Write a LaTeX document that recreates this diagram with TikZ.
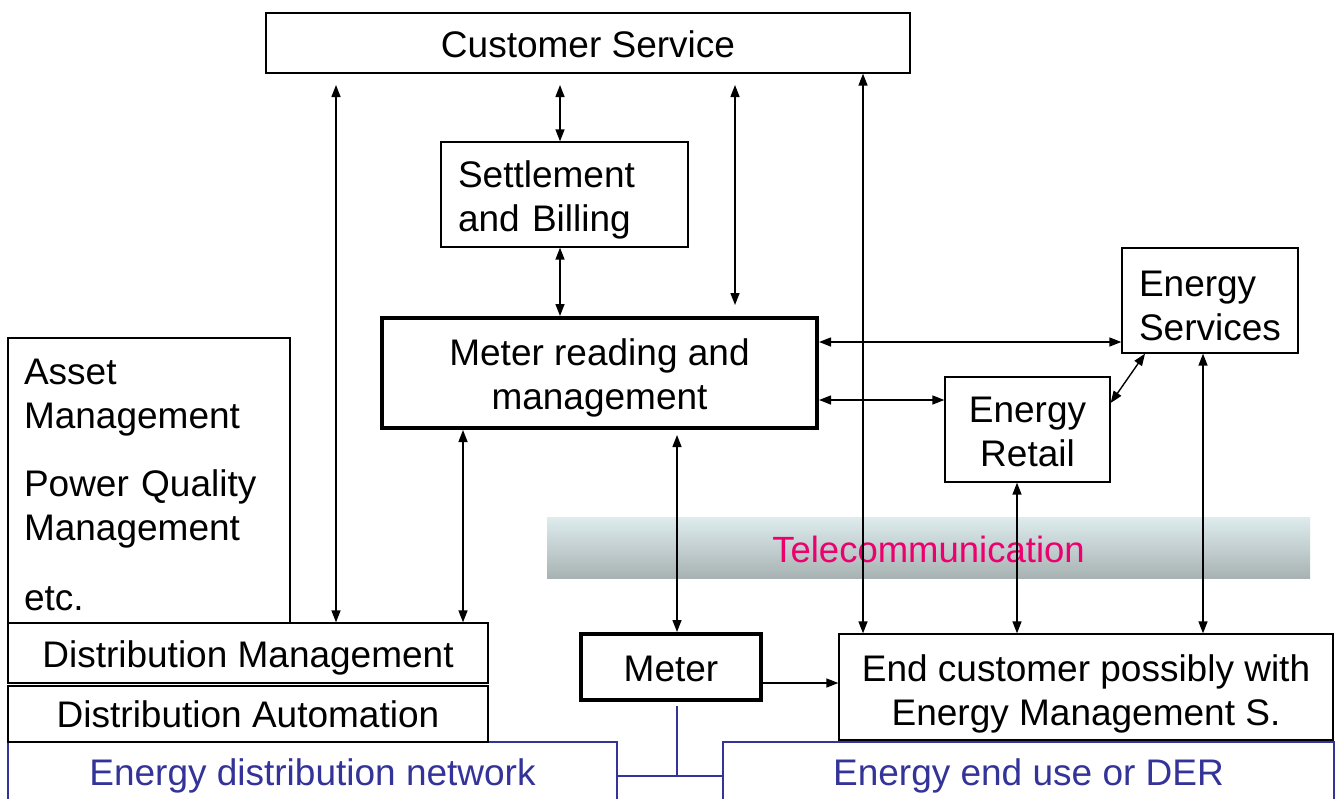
\documentclass[tikz,border=0pt]{standalone}
\usepackage{fontspec}
\setmainfont{Liberation Sans}
\usepackage{tikz}
\usetikzlibrary{arrows.meta, positioning, calc}

\definecolor{netblue}{RGB}{51,51,153}
\definecolor{telepink}{RGB}{235,0,110}
\definecolor{bandtop}{RGB}{222,236,237}
\definecolor{bandbot}{RGB}{168,178,179}

\begin{document}
\begin{tikzpicture}[x=1pt, y=-1pt,
    font=\fontsize{37}{44}\selectfont,
    oneline/.style={text height=29pt, text depth=0pt},
    leftpair/.style={text height=25pt, text depth=40pt},
    midpair/.style={text height=73pt, text depth=0pt},
    box/.style={draw, rectangle, line width=1.3pt, inner sep=0pt},
    heavybox/.style={box, line width=4pt},
    netbox/.style={draw=netblue, rectangle, line width=1.3pt, text=netblue, inner sep=0pt, text height=23pt, text depth=0pt},
    dbl/.style={{Triangle[length=12pt,width=9pt]}-{Triangle[length=12pt,width=9pt]}, line width=1.4pt},
    sgl/.style={-{Triangle[length=12pt,width=9pt]}, line width=1.4pt},
    netline/.style={draw=netblue, line width=1.3pt}]
    \useasboundingbox (0,0) rectangle (1338,798);

    % telecommunication band
    \node (tel) at (928.5,547.5) [rectangle, minimum width=763pt, minimum height=61pt, oneline,
        top color=bandtop, bottom color=bandbot, text=telepink, font=\fontsize{36.5}{42}\selectfont] {Telecommunication};

    % network boxes
    \node (edn) at (312.5,774) [netbox, minimum width=609pt, minimum height=64pt] {Energy distribution network};
    \node (eeu) at (1028.5,774) [netbox, minimum width=611pt, minimum height=64pt] {Energy end use or DER};

    % boxes
    \node (cs) at (588,43) [box, oneline, minimum width=644pt, minimum height=60pt] {Customer Service};
    \node (sb) at (564.5,194.5) [box, leftpair, minimum width=247pt, minimum height=105pt, text width=213pt, inner xsep=17pt, align=left] {Settlement\\and Billing};
    \node (mr) at (599.5,373) [heavybox, midpair, minimum width=435pt, minimum height=110pt, align=center] {Meter reading and\\management};
    \node (es) at (1210,300.5) [box, leftpair, text depth=34pt, minimum width=176pt, minimum height=105pt, text width=142pt, inner xsep=17pt, align=left] {Energy\\Services};
    \node (er) at (1027.5,429.5) [box, midpair, text height=74pt, minimum width=165pt, minimum height=105pt, align=center] {Energy\\Retail};
    \node (am) at (149,480.5) [box, minimum width=282pt, minimum height=285pt, text width=250pt, inner xsep=16pt, align=left,
        text height=25pt, text depth=218pt] {Asset\\Management\\[24pt]Power Quality\\Management\\[26pt]etc.};
    \node (dm) at (248,653) [box, oneline, minimum width=480pt, minimum height=60pt] {Distribution Management};
    \node (da) at (248,714) [box, text height=27pt, text depth=0pt, minimum width=480pt, minimum height=56pt] {Distribution Automation};
    \node (mt) at (671,667) [heavybox, text height=28pt, text depth=0pt, minimum width=180pt, minimum height=66pt] {Meter};
    \node (ec) at (1086,687) [box, midpair, text height=76pt, minimum width=494pt, minimum height=106pt, align=center] {End customer possibly with\\Energy Management S.};

    % arrow positions
    \coordinate (a1) at (336,85);
    \coordinate (a2) at (560,85);
    \coordinate (a4) at (735,85);
    \coordinate (a4b) at (735,305);
    \coordinate (a5) at (863,73);
    \coordinate (a6) at (463,430);
    \coordinate (a7) at (677,435);
    \coordinate (a8) at (1000,342);
    \coordinate (a9) at (880,400);
    \coordinate (a10) at (1111,403);
    \coordinate (a10b) at (1145,357);
    \coordinate (a11) at (1017,484);
    \coordinate (a12) at (1203,357);
    \coordinate (a13) at (800,683);
    \coordinate (jt) at (677,706);
    \coordinate (jn) at (677,776);

    \draw [dbl] (a1) -- (a1 |- dm.north);
    \draw [dbl] (a2) -- (a2 |- sb.north);
    \draw [dbl] (sb.south -| a2) -- (a2 |- mr.north);
    \draw [dbl] (a4) -- (a4b);
    \draw [dbl] (cs.south -| a5) -- (a5 |- ec.north);
    \draw [dbl] (mr.south -| a6) -- (a6 |- dm.north);
    \draw [dbl] (a7) -- (a7 |- mt.north);
    \draw [dbl] (mr.east |- a8) -- (es.west |- a8);
    \draw [dbl] (mr.east |- a9) -- (er.west |- a9);
    \draw [dbl] (er.east |- a10) -- (es.south -| a10b);
    \draw [dbl] (er.south -| a11) -- (a11 |- ec.north);
    \draw [dbl] (es.south -| a12) -- (a12 |- ec.north);
    \draw [sgl] (mt.east |- a13) -- (ec.west |- a13);

    \draw [netline] (jt) -- (jn);
    \draw [netline] (edn.east |- jn) -- (eeu.west |- jn);
\end{tikzpicture}
\end{document}
